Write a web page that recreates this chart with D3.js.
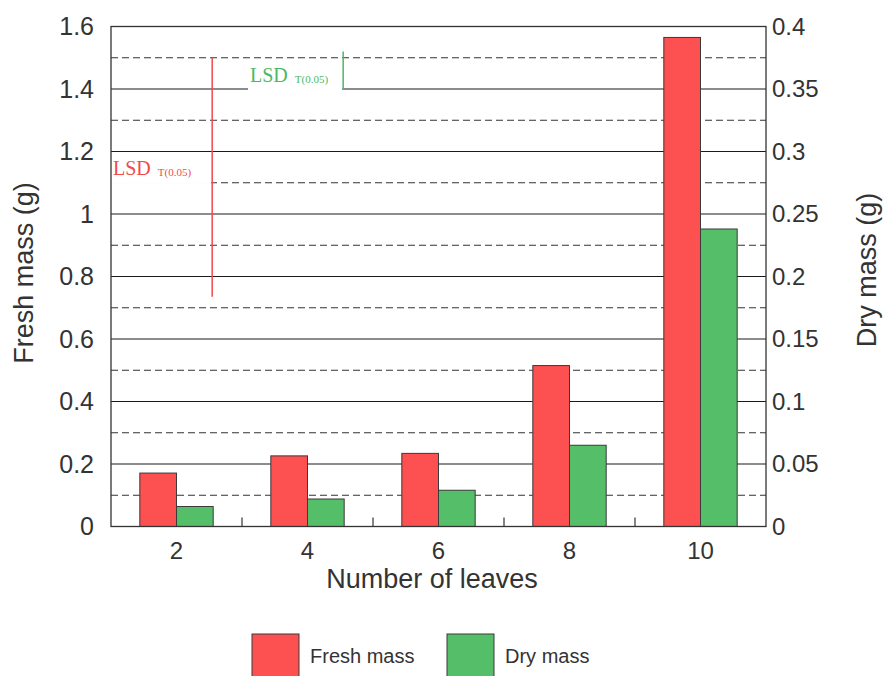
<!DOCTYPE html>
<html>
<head>
<meta charset="utf-8">
<script src="https://cdn.jsdelivr.net/npm/d3@7/dist/d3.min.js"></script>
<style>
  html, body { margin: 0; padding: 0; background: #fff; }
  svg { display: block; }
  .sans { font-family: "Liberation Sans", Arial, sans-serif; fill: #333; }
</style>
</head>
<body>
<svg id="chart" width="886" height="676"></svg>
<script>
// Number of leaves on the plant (x categories)
const categories = ["2", "4", "6", "8", "10"];
// Mean fresh mass per plant, g (left axis)
const freshMass = [0.171, 0.226, 0.234, 0.515, 1.565];
// Mean dry mass per plant, g (right axis)
const dryMass = [0.016, 0.022, 0.029, 0.065, 0.238];

// Axis ticks
const freshTicks = [0, 0.2, 0.4, 0.6, 0.8, 1, 1.2, 1.4, 1.6];
const freshMinor = [0.1, 0.3, 0.5, 0.7, 0.9, 1.1, 1.3, 1.5];
const dryTicks = [0, 0.05, 0.1, 0.15, 0.2, 0.25, 0.3, 0.35, 0.4];

// Least significant differences (p = 0.05) drawn as vertical bars
const lsdFresh = [0.765];   // length, g fresh mass
const lsdFreshTop = [1.5];
const lsdDry = [0.03];      // length, g dry mass
const lsdDryTop = [0.38];

const svg = d3.select("#chart");
const plotL = 111, plotR = 766, plotT = 26.5, plotB = 526.5;

const x = d3.scaleBand().domain(categories).range([plotL, plotR]).padding(0);
const yF = d3.scaleLinear().domain([0, 1.6]).range([plotB, plotT]);
const yD = d3.scaleLinear().domain([0, 0.4]).range([plotB, plotT]);
const barW = x.bandwidth() * 0.28;

const red = "#fd5050";
const green = "#55be68";

// Grid: solid at labelled ticks, dashed halfway between
const grid = svg.append("g");
grid.selectAll("line.major")
  .data(freshTicks.filter(v => v > 0 && v < 1.6))
  .join("line")
  .attr("x1", plotL).attr("x2", plotR)
  .attr("y1", d => yF(d)).attr("y2", d => yF(d))
  .attr("stroke", "#1a1a1a").attr("stroke-width", 1.2);
grid.selectAll("line.minor")
  .data(freshMinor)
  .join("line")
  .attr("x1", plotL).attr("x2", plotR)
  .attr("y1", d => yF(d)).attr("y2", d => yF(d))
  .attr("stroke", "#333").attr("stroke-width", 1)
  .attr("stroke-dasharray", "7,4");

// Bars
const bars = svg.append("g");
bars.selectAll("rect.fresh")
  .data(categories)
  .join("rect")
  .attr("x", (d) => x(d) + x.bandwidth() / 2 - barW)
  .attr("y", (d, i) => yF(freshMass[i]))
  .attr("width", barW)
  .attr("height", (d, i) => yF(0) - yF(freshMass[i]))
  .attr("fill", red).attr("stroke", "#3a3a3a").attr("stroke-width", 1);
bars.selectAll("rect.dry")
  .data(categories)
  .join("rect")
  .attr("x", (d) => x(d) + x.bandwidth() / 2)
  .attr("y", (d, i) => yD(dryMass[i]))
  .attr("width", barW)
  .attr("height", (d, i) => yD(0) - yD(dryMass[i]))
  .attr("fill", green).attr("stroke", "#3a3a3a").attr("stroke-width", 1);

// LSD markers with their labels
function lsdMarker(cat, scale, topVal, len, color, labelVal, labelX) {
  const lx = x(cat) + x.bandwidth() / 2 + barW - 1;
  const g = svg.append("g");
  const bg = g.append("rect").attr("fill", "#fff");
  const t = g.append("text")
    .attr("x", labelX)
    .attr("y", scale(labelVal))
    .attr("fill", color)
    .style("font-family", "'Liberation Serif', 'Times New Roman', serif");
  t.append("tspan").text("LSD").style("font-size", "20px");
  t.append("tspan").text("T(0.05)").style("font-size", "11px").attr("dx", 7).attr("dy", 1);
  const bb = t.node().getBBox();
  bg.attr("x", bb.x - 2).attr("y", bb.y - 3)
    .attr("width", lx - bb.x + 1).attr("height", bb.height + 8);
  g.append("line")
    .attr("x1", lx).attr("x2", lx)
    .attr("y1", scale(topVal)).attr("y2", scale(topVal - len))
    .attr("stroke", color).attr("stroke-width", 1.5);
}
lsdMarker("2", yF, lsdFreshTop[0], lsdFresh[0], "#f24a4a", 1.125, plotL + 2);
lsdMarker("4", yD, lsdDryTop[0], lsdDry[0], "#4cb864", 0.356, x("4") + 8);

// Frame
svg.append("rect")
  .attr("x", plotL).attr("y", plotT)
  .attr("width", plotR - plotL).attr("height", plotB - plotT)
  .attr("fill", "none").attr("stroke", "#333").attr("stroke-width", 1.3);

// Category separators on the x axis
svg.append("g").selectAll("line")
  .data(categories.slice(1))
  .join("line")
  .attr("x1", d => x(d)).attr("x2", d => x(d))
  .attr("y1", plotB).attr("y2", plotB - 9)
  .attr("stroke", "#333").attr("stroke-width", 1.2);

// Axes
const fmt = d => String(+d.toFixed(2));
const ax = svg.append("g").attr("transform", `translate(0,${plotB})`)
  .call(d3.axisBottom(x).tickSize(0).tickPadding(15));
const ayl = svg.append("g").attr("transform", `translate(${plotL},0)`)
  .call(d3.axisLeft(yF).tickValues(freshTicks).tickFormat(fmt).tickSize(0).tickPadding(17));
const ayr = svg.append("g").attr("transform", `translate(${plotR},0)`)
  .call(d3.axisRight(yD).tickValues(dryTicks).tickFormat(fmt).tickSize(0).tickPadding(6));
[ax, ayl, ayr].forEach(a => {
  a.select(".domain").remove();
  a.selectAll("text").attr("class", "sans").style("font-size", "24px").attr("fill", "#333");
});
ayl.selectAll("text").style("font-size", "25px");

// Axis titles
svg.append("text").attr("class", "sans")
  .attr("x", 432).attr("y", 588)
  .attr("text-anchor", "middle").style("font-size", "27px")
  .text("Number of leaves");
svg.append("text").attr("class", "sans")
  .attr("transform", "translate(33,273) rotate(-90)")
  .attr("text-anchor", "middle").style("font-size", "27px")
  .text("Fresh mass (g)");
svg.append("text").attr("class", "sans")
  .attr("transform", "translate(876,270) rotate(-90)")
  .attr("text-anchor", "middle").style("font-size", "27px")
  .text("Dry mass (g)");

// Legend
const legendItems = [
  { label: "Fresh mass", color: red, x: 252 },
  { label: "Dry mass", color: green, x: 447 }
];
const lg = svg.append("g");
legendItems.forEach(it => {
  lg.append("rect").attr("x", it.x).attr("y", 634).attr("width", 47).attr("height", 47)
    .attr("fill", it.color).attr("stroke", "#3a3a3a").attr("stroke-width", 1);
  lg.append("text").attr("class", "sans").attr("x", it.x + 58).attr("y", 663)
    .style("font-size", "20px").text(it.label);
});
</script>
</body>
</html>
